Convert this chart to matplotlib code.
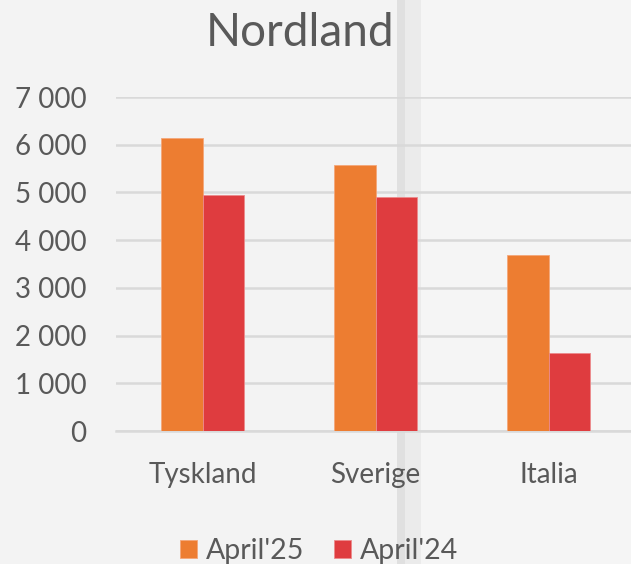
import matplotlib.pyplot as plt
from matplotlib.patches import Rectangle
from matplotlib.ticker import FuncFormatter
import numpy as np

categories = ["Tyskland", "Sverige", "Italia"]
april_25 = [6140, 5570, 3690]
april_24 = [4940, 4900, 1630]
series_names = ["April'25", "April'24"]
y_ticks = [0, 1000, 2000, 3000, 4000, 5000, 6000, 7000]

text_color = "#595959"
plt.rcParams['font.family'] = ['Lato', 'DejaVu Sans']

fig = plt.figure(figsize=(6.31, 5.64), dpi=100)
fig.patch.set_facecolor("#F3F3F3")

# page-fold shadow behind the chart
fig.patches.append(Rectangle((397 / 631, 0), 8 / 631, 1, transform=fig.transFigure,
                             facecolor="#E0E0E0", edgecolor="none", zorder=-2))
fig.patches.append(Rectangle((405 / 631, 0), 16 / 631, 1, transform=fig.transFigure,
                             facecolor="#EBEBEB", edgecolor="none", zorder=-2))
fig.patches.append(Rectangle((421 / 631, 0), 210 / 631, 1, transform=fig.transFigure,
                             facecolor="#F5F5F5", edgecolor="none", zorder=-3))

ax = fig.add_axes([116 / 631, (564 - 431) / 564, 519 / 631, 334 / 564])
ax.set_facecolor("none")

x = np.arange(len(categories))
w = 0.237
ax.bar(x - w / 2, april_25, w, color="#ED7D31", edgecolor="#F4A77A", linewidth=0.6,
       label=series_names[0], zorder=3)
ax.bar(x + w / 2, april_24, w, color="#DF3C3F", edgecolor="#EC8A8C", linewidth=0.6,
       label=series_names[1], zorder=3)

ax.set_xlim(-0.5, 2.5)
ax.set_ylim(0, 7000)
ax.set_yticks(y_ticks)
ax.yaxis.set_major_formatter(FuncFormatter(lambda v, p: f"{int(v):,}".replace(",", " ")))
ax.set_xticks(x)
ax.set_xticklabels(categories)

ax.grid(axis="y", color="#D9D9D9", linewidth=1.8, zorder=0)
for s in ["top", "right", "left"]:
    ax.spines[s].set_visible(False)
ax.spines["bottom"].set_color("#D9D9D9")
ax.spines["bottom"].set_linewidth(1.8)
ax.tick_params(axis="both", length=0, colors=text_color, labelsize=20)
ax.tick_params(axis="y", pad=21.5)
ax.tick_params(axis="x", pad=22)

fig.text(300 / 631, 1 - 33 / 564, "Nordland", ha="center", va="center",
         fontsize=33, color=text_color)

leg = fig.legend(loc="center", bbox_to_anchor=(319 / 631, 1 - 551 / 564), ncol=2,
                 frameon=False, fontsize=20.5, handlelength=0.6, handleheight=0.6,
                 handletextpad=0.3, columnspacing=1.05, labelcolor=text_color)

fig.savefig("out.png", dpi=100, facecolor=fig.get_facecolor())
